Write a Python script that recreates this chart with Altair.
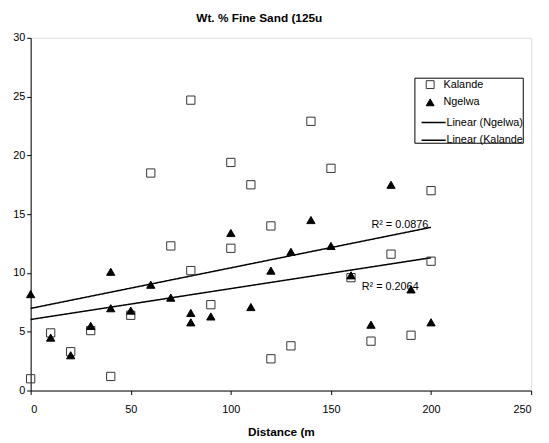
import altair as alt
import pandas as pd

# Kalande (hollow squares)
kal_x = [0, 10, 20, 30, 40, 50, 60, 70, 80, 80, 90, 100, 100, 110, 120, 120, 130, 140, 150, 160, 170, 180, 190, 200, 200]
kal_y = [1.0, 4.9, 3.3, 5.1, 1.2, 6.4, 18.5, 12.3, 10.2, 24.7, 7.3, 12.1, 19.4, 17.5, 14.0, 2.7, 3.8, 22.9, 18.9, 9.6, 4.2, 11.6, 4.7, 11.0, 17.0]
# Ngelwa (filled triangles)
nge_x = [0, 10, 20, 30, 40, 40, 50, 60, 70, 80, 80, 90, 100, 110, 120, 130, 140, 150, 160, 170, 180, 190, 200]
nge_y = [8.2, 4.5, 3.0, 5.5, 10.1, 7.0, 6.8, 9.0, 7.9, 6.6, 5.8, 6.3, 13.4, 7.1, 10.2, 11.8, 14.5, 12.3, 9.8, 5.6, 17.5, 8.6, 5.8]

series_names = ["Kalande", "Ngelwa"]
line_names = ["Linear (Ngelwa)", "Linear (Kalande"]
r2_labels = ["R\u00b2 = 0.0876", "R\u00b2 = 0.2064"]
r2_x = [170.2, 165.4]
r2_y = [14.1, 8.84]

pts = pd.DataFrame({
    "x": kal_x + nge_x,
    "y": kal_y + nge_y,
    "series": ["Kalande"] * len(kal_x) + ["Ngelwa"] * len(nge_x),
})
lab = pd.DataFrame({"x": r2_x, "y": r2_y, "t": r2_labels})

xs = alt.Scale(domain=[0, 250], nice=False, zero=True)
ys = alt.Scale(domain=[0, 30], nice=False)

xax = alt.Axis(values=[0, 50, 100, 150, 200, 250], grid=False, title="Distance (m",
               labelFontSize=11, titleFontSize=12, titleFontWeight="bold",
               titlePadding=13, labelPadding=9, tickSize=4, domainColor="black",
               tickColor="black", labelColor="black", titleColor="black")
yax = alt.Axis(values=[0, 5, 10, 15, 20, 25, 30], grid=False, title=None,
               labelFontSize=11, tickSize=4, labelPadding=2, domainColor="black",
               tickColor="black", labelColor="black")

# legend frame
frame = alt.Chart(pd.DataFrame({"a": [0]})).mark_rect(
    fill="white", stroke="black", strokeWidth=1
).encode(x=alt.value(390), x2=alt.value(500), y=alt.value(41), y2=alt.value(107))

pt_legend = alt.Legend(orient="none", legendX=400, legendY=42,
                       labelFontSize=11, labelColor="black", labelOffset=8,
                       rowPadding=5, symbolSize=64, symbolStrokeWidth=1,
                       labelLimit=100)
ln_legend = alt.Legend(orient="none", legendX=396, legendY=73,
                       labelFontSize=11, labelColor="black", labelOffset=0,
                       rowPadding=-6, symbolType="stroke", symbolSize=600,
                       symbolStrokeWidth=1.5, symbolStrokeColor="black",
                       labelLimit=80)

points = alt.Chart(pts).mark_point(strokeWidth=1, opacity=1, size=70).encode(
    x=alt.X("x:Q", scale=xs, axis=xax),
    y=alt.Y("y:Q", scale=ys, axis=yax),
    shape=alt.Shape("series:N", title=None,
                    scale=alt.Scale(domain=series_names, range=["square", "triangle-up"]),
                    legend=pt_legend),
    fill=alt.Fill("series:N", title=None,
                  scale=alt.Scale(domain=series_names, range=["transparent", "black"]),
                  legend=pt_legend),
    stroke=alt.Stroke("series:N", title=None,
                      scale=alt.Scale(domain=series_names, range=["#333333", "black"]),
                      legend=pt_legend),
)

lines = alt.Chart(pts).transform_regression(
    "x", "y", groupby=["series"], extent=[0, 200]
).transform_calculate(
    trend="datum.series == 'Kalande' ? 'Linear (Kalande' : 'Linear (Ngelwa)'"
).mark_line(strokeWidth=1.5).encode(
    x=alt.X("x:Q", scale=xs),
    y=alt.Y("y:Q", scale=ys),
    strokeDash=alt.StrokeDash("trend:N", title=None,
                              scale=alt.Scale(domain=line_names, range=[[1, 0], [1, 0]]),
                              legend=ln_legend),
    color=alt.value("black"),
)

texts = alt.Chart(lab).mark_text(align="left", baseline="middle", fontSize=11,
                                 color="black").encode(
    x=alt.X("x:Q", scale=xs),
    y=alt.Y("y:Q", scale=ys),
    text="t:N",
)

chart = alt.layer(frame, lines, points, texts).properties(
    width=508, height=358,
    title=alt.TitleParams("Wt. % Fine Sand (125u", fontSize=12, fontWeight="bold",
                          dx=-22, offset=7, color="black"),
    autosize=alt.AutoSizeParams(type="none"),
    padding={"left": 23, "top": 27, "right": 10, "bottom": 50},
).configure_view(stroke=None).configure(font="Liberation Sans")

chart.save("out.html", embed_options={"renderer": "svg", "actions": False})
